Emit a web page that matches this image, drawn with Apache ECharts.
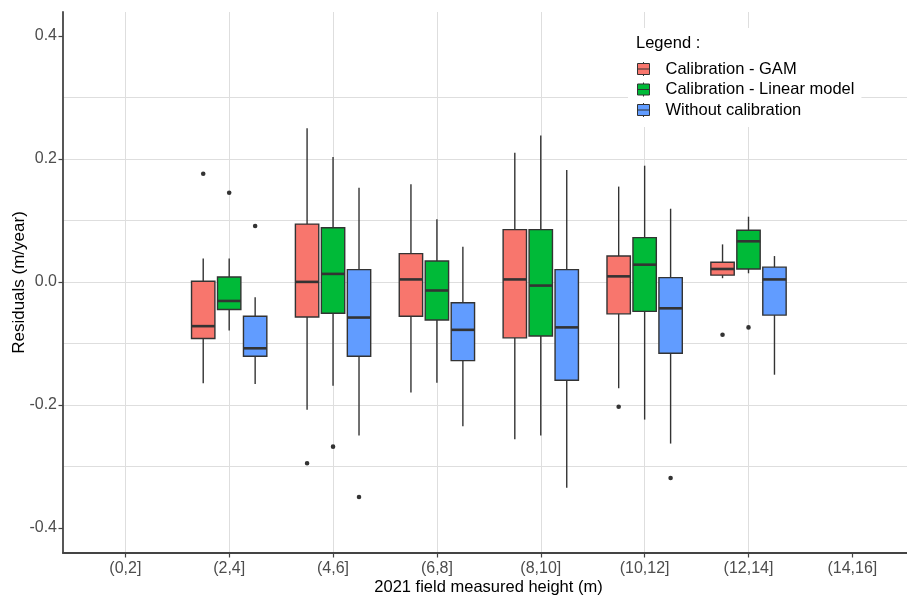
<!DOCTYPE html>
<html>
<head>
<meta charset="utf-8">
<title>Residuals by height class</title>
<script src="https://cdn.jsdelivr.net/npm/echarts@6/dist/echarts.min.js"></script>
<style>
  html, body { margin: 0; padding: 0; background: #ffffff; }
  #chart { width: 907px; height: 595px; }
</style>
</head>
<body>
<div id="chart"></div>
<script>
// Height classes (m)
const categories = ['(0,2]', '(2,4]', '(4,6]', '(6,8]', '(8,10]', '(10,12]', '(12,14]', '(14,16]'];

// Box summaries per class: [lower whisker, Q1, median, Q3, upper whisker]; null = no trees
const gamBoxes = [
  null,
  [-0.165, -0.092, -0.072, 0.001, 0.038],
  [-0.208, -0.057, 0.000, 0.094, 0.250],
  [-0.180, -0.056, 0.004, 0.046, 0.159],
  [-0.256, -0.091, 0.004, 0.085, 0.210],
  [-0.173, -0.052, 0.009, 0.042, 0.155],
  [0.006, 0.011, 0.021, 0.032, 0.061],
  null
];
const linearBoxes = [
  null,
  [-0.079, -0.045, -0.031, 0.008, 0.038],
  [-0.169, -0.051, 0.013, 0.088, 0.203],
  [-0.164, -0.062, -0.014, 0.034, 0.102],
  [-0.250, -0.088, -0.006, 0.085, 0.238],
  [-0.224, -0.048, 0.028, 0.072, 0.189],
  [0.014, 0.021, 0.066, 0.084, 0.106],
  null
];
const rawBoxes = [
  null,
  [-0.166, -0.121, -0.108, -0.056, -0.025],
  [-0.250, -0.121, -0.058, 0.020, 0.153],
  [-0.235, -0.128, -0.078, -0.034, 0.057],
  [-0.335, -0.160, -0.074, 0.020, 0.182],
  [-0.263, -0.116, -0.043, 0.007, 0.119],
  [-0.151, -0.054, 0.004, 0.024, 0.042],
  null
];

// Outlying residuals per class
const gamOutliers = [[], [0.176], [-0.295], [], [], [-0.203], [-0.086], []];
const linearOutliers = [[], [0.145], [-0.268], [], [], [], [-0.074], []];
const rawOutliers = [[], [0.091], [-0.350], [], [], [-0.319], [], []];

const groupNames = ['Calibration - GAM', 'Calibration - Linear model', 'Without calibration'];
const groupColors = ['#F8766D', '#00BA38', '#619CFF'];
const yTicks = [-0.4, -0.2, 0, 0.2, 0.4];
const xTicks = categories.map(function (c, i) { return i; });

const FONT = '"Liberation Sans", Arial, sans-serif';
const INK = '#333333';
const DODGE = 0.25;       // offset between neighbouring boxes, in class widths
const BOX_FRACTION = 0.225;

function boxData(boxes) {
  const out = [];
  boxes.forEach(function (b, i) { if (b) out.push([i].concat(b)); });
  return out;
}
function outlierData(list) {
  const out = [];
  list.forEach(function (vals, i) { vals.forEach(function (v) { out.push([i, v]); }); });
  return out;
}

function boxRenderer(offset, color) {
  return function (params, api) {
    const cls = api.value(0);
    const band = api.size([1, 0])[0];
    const cx = api.coord([cls + offset, 0])[0];
    const half = band * BOX_FRACTION / 2;
    const yLo = api.coord([cls, api.value(1)])[1];
    const yQ1 = api.coord([cls, api.value(2)])[1];
    const yMed = api.coord([cls, api.value(3)])[1];
    const yQ3 = api.coord([cls, api.value(4)])[1];
    const yHi = api.coord([cls, api.value(5)])[1];
    const edge = { stroke: INK, lineWidth: 1.4 };
    return {
      type: 'group',
      children: [
        { type: 'line', shape: { x1: cx, y1: yHi, x2: cx, y2: yQ3 }, style: edge },
        { type: 'line', shape: { x1: cx, y1: yQ1, x2: cx, y2: yLo }, style: edge },
        { type: 'rect', shape: { x: cx - half, y: yQ3, width: 2 * half, height: yQ1 - yQ3 },
          style: { fill: color, stroke: INK, lineWidth: 1.4 } },
        { type: 'line', shape: { x1: cx - half, y1: yMed, x2: cx + half, y2: yMed },
          style: { stroke: INK, lineWidth: 2.6 } }
      ]
    };
  };
}

function outlierRenderer(offset) {
  return function (params, api) {
    const p = api.coord([api.value(0) + offset, api.value(1)]);
    return { type: 'circle', shape: { cx: p[0], cy: p[1], r: 2.3 }, style: { fill: INK } };
  };
}

const allBoxes = [gamBoxes, linearBoxes, rawBoxes];
const allOutliers = [gamOutliers, linearOutliers, rawOutliers];
const series = [];
groupNames.forEach(function (name, g) {
  const offset = (g - 1) * DODGE;
  series.push({
    type: 'custom', name: name, renderItem: boxRenderer(offset, groupColors[g]),
    itemStyle: { color: groupColors[g] },
    encode: { x: 0, y: [1, 2, 3, 4, 5] },
    data: boxData(allBoxes[g])
  });
  series.push({
    type: 'custom', name: name, renderItem: outlierRenderer(offset),
    itemStyle: { color: groupColors[g] },
    encode: { x: 0, y: 1 },
    data: outlierData(allOutliers[g]),
    z: 3
  });
});

// Legend key: box with median bar and whisker stubs
const KEY_ICON = 'path://M6,0L6,1.5M0,1.5L12,1.5L12,12.5L0,12.5ZM0,7L12,7M6,12.5L6,14';

const chart = echarts.init(document.getElementById('chart'), null, { renderer: 'canvas' });
chart.setOption({
  animation: false,
  backgroundColor: '#ffffff',
  textStyle: { fontFamily: FONT },
  grid: { left: 63, right: 0, top: 12, bottom: 42, containLabel: false, outerBoundsMode: 'none' },
  title: {
    text: 'Legend :', left: 636, top: 33, padding: 0,
    textStyle: { fontFamily: FONT, fontSize: 16.5, fontWeight: 'normal', color: '#000000', lineHeight: 20 }
  },
  legend: {
    orient: 'vertical', left: 628, top: 28,
    padding: [31, 7, 7, 9],
    backgroundColor: '#ffffff',
    itemWidth: 12, itemHeight: 14, itemGap: 0.5,
    textStyle: { fontFamily: FONT, fontSize: 16.5, color: '#000000', lineHeight: 20, padding: [0, 0, 0, 11] },
    data: groupNames.map(function (n, i) {
      return { name: n, icon: KEY_ICON, itemStyle: { color: groupColors[i], borderColor: INK, borderWidth: 1 } };
    })
  },
  xAxis: {
    type: 'value', min: -0.6, max: 7.526, splitNumber: 8,
    name: '2021 field measured height (m)', nameLocation: 'middle', nameGap: 26, nameMoveOverlap: false,
    nameTextStyle: { fontFamily: FONT, fontSize: 16.5, color: '#000000', padding: [0, 0, 0, 7] },
    axisLine: { show: true, onZero: false, lineStyle: { color: '#444444', width: 1.8 } },
    axisTick: { show: true, length: 4.5, customValues: xTicks, lineStyle: { color: '#444444', width: 1.2 } },
    axisLabel: {
      fontFamily: FONT, fontSize: 16, color: '#4D4D4D', margin: 7.5, customValues: xTicks,
      formatter: function (v) { return categories[Math.round(v)] || ''; }
    },
    splitLine: { show: true, showMinLine: true, showMaxLine: false, lineStyle: { color: '#DEDEDE', width: 1 } }
  },
  yAxis: {
    type: 'value', min: -0.441, max: 0.439, splitNumber: 4,
    name: 'Residuals (m/year)', nameLocation: 'middle', nameGap: 35, nameMoveOverlap: false,
    nameTextStyle: { fontFamily: FONT, fontSize: 17, color: '#000000' },
    axisLine: { show: true, onZero: false, lineStyle: { color: '#444444', width: 1.8 } },
    axisTick: { show: true, length: 4.5, customValues: yTicks, lineStyle: { color: '#444444', width: 1.2 } },
    axisLabel: {
      fontFamily: FONT, fontSize: 16, color: '#4D4D4D', margin: 6, customValues: yTicks,
      formatter: function (v) { return Number(v).toFixed(1); }
    },
    splitLine: { show: true, showMinLine: false, showMaxLine: false, lineStyle: { color: '#DEDEDE', width: 1 } },
    minorTick: { show: false, splitNumber: 2 },
    minorSplitLine: { show: true, lineStyle: { color: '#DEDEDE', width: 1 } }
  },
  series: series
});
</script>
</body>
</html>
